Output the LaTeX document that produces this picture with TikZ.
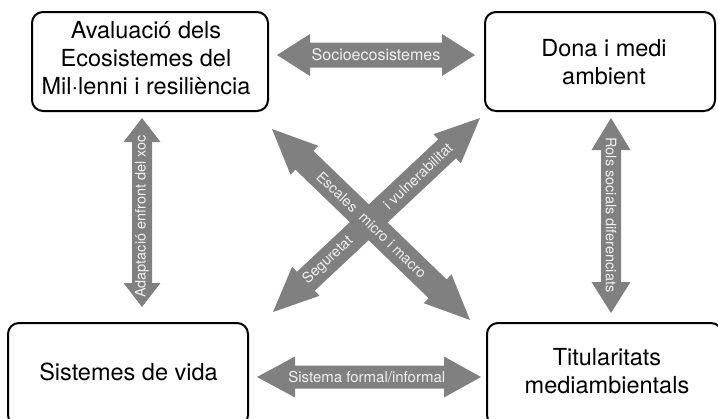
\documentclass[tikz,border=0pt]{standalone}
\usepackage{fontspec}
\setmainfont{TeX Gyre Heros}
\usetikzlibrary{calc}
\definecolor{arrowgrey}{RGB}{128,128,128}
\definecolor{labelwhite}{RGB}{240,240,240}
\newcommand\blockarrow[6]{%
  \path ($(#1)!#5!(#2)$) coordinate (#1-h) ($(#2)!#6!(#1)$) coordinate (#2-h);
  \fill[arrowfill] (#1) -- ($(#1-h)!#4!90:(#2)$) -- ($(#1-h)!#3!90:(#2)$)
    -- ($(#2-h)!#3!90:(#2)$) -- ($(#2-h)!#4!90:(#2)$) -- (#2)
    -- ($(#2-h)!-#4!90:(#2)$) -- ($(#2-h)!-#3!90:(#2)$)
    -- ($(#1-h)!-#3!90:(#2)$) -- ($(#1-h)!-#4!90:(#2)$) -- cycle;}
\begin{document}
\begin{tikzpicture}[x=1pt,y=-1pt,
  box/.style={draw=black, line width=2pt, rounded corners=11pt, fill=white, inner sep=0pt},
  boxtext/.style={font=\fontsize{23.5}{28}\selectfont, align=center, inner sep=0pt, text=black},
  arrowfill/.style={fill=arrowgrey},
  lbl/.style={font=\fontsize{14.5}{17}\selectfont, text=labelwhite, inner sep=0pt}]
\useasboundingbox (0,0) rectangle (718,418);
\clip (0,0) rectangle (718,418);
\fill[white] (0,0) rectangle (718,418);
% boxes
\node[box, minimum width=236pt, minimum height=99pt] (boxTL) at (150,61.5) {};
\node[box, minimum width=230pt, minimum height=99pt] (boxTR) at (600,61.5) {};
\node[box, minimum width=240pt, minimum height=103pt] (boxBL) at (128,374.5) {};
\node[box, minimum width=235pt, minimum height=103pt] (boxBR) at (604.5,374.5) {};
\node[boxtext] (tTL) at (146,58.5) {Avaluació dels\\Ecosistemes del\\Mil·lenni i resiliència};
\node[boxtext] (tTR) at (604,62.5) {Dona i medi\\ambient};
\node[boxtext] (tBL) at (128.5,372) {Sistemes de vida};
\node[boxtext] (tBR) at (607,371) {Titularitats\\mediambientals};
% arrow end points
\coordinate (soL) at (277,55);  \coordinate (soR) at (475,55);
\coordinate (sfL) at (257,377); \coordinate (sfR) at (481,377);
\coordinate (adB) at (142,307); \coordinate (adT) at (142,118);
\coordinate (roT) at (611,118); \coordinate (roB) at (611,313);
\coordinate (dA) at (272,129);  \coordinate (dB) at (470,320);
\coordinate (dC) at (273,312);  \coordinate (dD) at (480,118);
% arrows
\blockarrow{soL}{soR}{12.5pt}{21pt}{33pt}{33pt}
\blockarrow{sfL}{sfR}{11.5pt}{20.5pt}{38pt}{37pt}
\blockarrow{adB}{adT}{10pt}{18.5pt}{24pt}{24pt}
\blockarrow{roT}{roB}{10pt}{19.5pt}{32pt}{31pt}
\blockarrow{dA}{dB}{13pt}{20pt}{45pt}{45pt}
\blockarrow{dC}{dD}{13pt}{20pt}{45pt}{45pt}
% labels
\path (soL) -- (soR) node[lbl, pos=0.5, font=\fontsize{16}{19}\selectfont] (lso) {Socioecosistemes};
\path (sfL) -- (sfR) node[lbl, pos=0.49, font=\fontsize{15}{18}\selectfont] (lsf) {Sistema formal/informal};
\path (adB) -- (adT) node[lbl, pos=0.48, sloped, allow upside down] (lad) {Adaptació enfront del xoc};
\path (roT) -- (roB) node[lbl, pos=0.497, sloped, allow upside down] (lro) {Rols socials diferenciats};
\path (dA) -- (dB) node[lbl, pos=0.33, sloped, allow upside down] (lesc) {Escales}
                   node[lbl, pos=0.61, sloped, allow upside down] (lmic) {micro i macro};
\path (dC) -- (dD) node[lbl, pos=0.266, sloped, allow upside down] (lseg) {Seguretat}
                   node[lbl, pos=0.70, sloped, allow upside down] (lvul) {i vulnerabilitat};
\end{tikzpicture}
\end{document}
